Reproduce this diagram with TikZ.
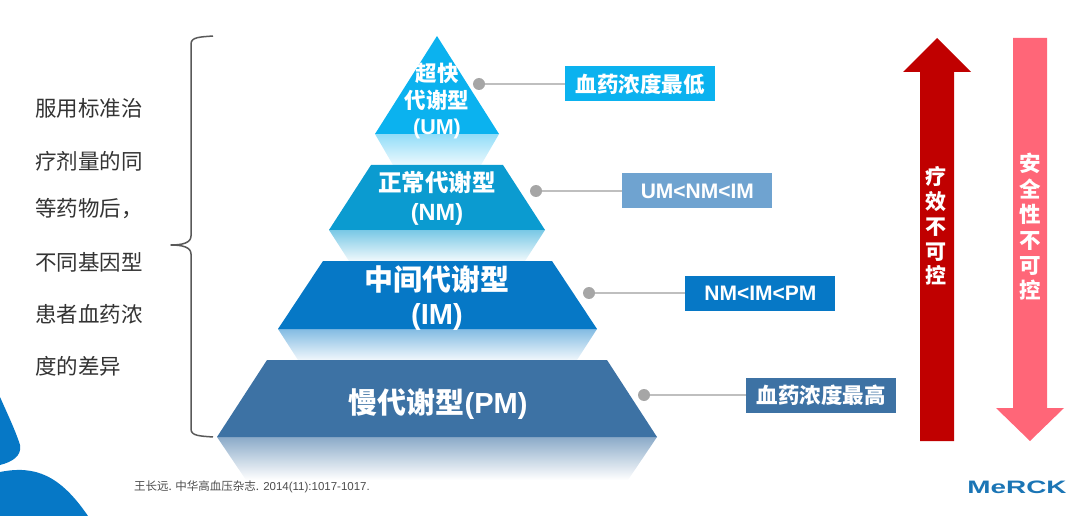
\documentclass[tikz,border=0pt]{standalone}
\usepackage{fontspec}
\setmainfont{Liberation Sans}
\newfontfamily\cjk{Noto Sans CJK SC}
\usetikzlibrary{positioning}
\definecolor{umblue}{HTML}{0BB2EF}
\definecolor{nmblue}{HTML}{0B9BD0}
\definecolor{imblue}{HTML}{0678C6}
\definecolor{pmblue}{HTML}{3D72A4}
\definecolor{nmtag}{HTML}{6FA3D0}
\definecolor{effred}{HTML}{C00000}
\definecolor{safepink}{HTML}{FF6678}
\definecolor{logoblue}{HTML}{1B75B5}
\tikzset{
  tier/.style={text=white,align=center,inner sep=0pt},
  side/.style={anchor=west,inner sep=0pt,text=black!80,font=\cjk\fontsize{21.5}{25}\selectfont},
  dot/.style={circle,fill=black!35,minimum size=12pt,inner sep=0pt},
  tag/.style={minimum width=150pt,minimum height=35pt,inner sep=0pt,text=white},
  lead/.style={black!25,line width=1.5pt},
  vert/.style={text=white,align=center,inner sep=0pt}
}
\begin{document}
\begin{tikzpicture}[x=1pt,y=-1pt]
\useasboundingbox (0,0) rectangle (1080,516);

\fill[imblue] (0,397) .. controls (8,415) and (16,432) .. (20,445) .. controls (22,456) and (12,462) .. (0,465) -- cycle;
\fill[imblue] (0,472) .. controls (35,465) and (60,475) .. (88,516) -- (0,516) -- cycle;

\shade[top color=umblue!45,bottom color=umblue!8] (375,134) -- (499,134) -- (481,165) -- (393,165) -- cycle;
\shade[top color=nmblue!55,bottom color=nmblue!6] (329,230) -- (545,230) -- (525,261) -- (349,261) -- cycle;
\shade[top color=imblue!50,bottom color=imblue!6] (278,329) -- (597,329) -- (577,360) -- (298,360) -- cycle;
\shade[top color=pmblue!60,bottom color=white] (217,437) -- (657,437) -- (628,480) -- (246,480) -- cycle;

\fill[umblue] (437,36) -- (499,134) -- (375,134) -- cycle;
\fill[nmblue] (371,165) -- (503,165) -- (545,230) -- (329,230) -- cycle;
\fill[imblue] (323,261) -- (552,261) -- (597,329) -- (278,329) -- cycle;
\fill[pmblue] (267,360) -- (607,360) -- (657,437) -- (217,437) -- cycle;

\node[tier,font=\cjk\bfseries\fontsize{21.5}{26.5}\selectfont] (um) at (437,101.5) {超快\\代谢型\\{\rmfamily (UM)}};
\node[tier,font=\cjk\bfseries\fontsize{23.5}{29}\selectfont] (nm) at (437,198.5) {正常代谢型\\{\rmfamily (NM)}};
\node[tier,font=\cjk\bfseries\fontsize{29}{34}\selectfont] (im) at (437,298.5) {中间代谢型\\{\rmfamily (IM)}};
\node[tier,font=\cjk\bfseries\fontsize{29}{34}\selectfont] (pm) at (438,404) {慢代谢型{\rmfamily (PM)}};

\node[dot] (dotum) at (479,84) {};
\node[dot] (dotnm) at (536,191) {};
\node[dot] (dotim) at (589,293) {};
\node[dot] (dotpm) at (644,395) {};

\node[tag,fill=umblue,right=80pt of dotum,font=\cjk\bfseries\fontsize{21.5}{26}\selectfont] (tagum) {血药浓度最低};
\node[tag,fill=nmtag,right=80pt of dotnm,font=\bfseries\fontsize{21}{24}\selectfont] (tagnm) {UM<NM<IM};
\node[tag,fill=imblue,right=90pt of dotim,font=\bfseries\fontsize{21}{24}\selectfont] (tagim) {NM<IM<PM};
\node[tag,fill=pmblue,right=96pt of dotpm,font=\cjk\bfseries\fontsize{21.5}{26}\selectfont] (tagpm) {血药浓度最高};

\draw[lead] (dotum) -- (tagum);
\draw[lead] (dotnm) -- (tagnm);
\draw[lead] (dotim) -- (tagim);
\draw[lead] (dotpm) -- (tagpm);

\node[side] (line1) at (35,108) {服用标准治};
\node[side] (line2) at (35,161) {疗剂量的同};
\node[side] (line3) at (35,209) {等药物后，};
\node[side] (line4) at (35,262) {不同基因型};
\node[side] (line5) at (35,314) {患者血药浓};
\node[side] (line6) at (35,366) {度的差异};

\draw[black!65,line width=1.5pt,line join=round] (213,36) .. controls (200,37) and (191,37) .. (191,44) -- (191,236) .. controls (191,243) and (182,245) .. (171,245) .. controls (182,245) and (191,247) .. (191,254) -- (191,429) .. controls (191,436) and (200,436) .. (213,437);

\fill[effred] (937,38) -- (971,72) -- (954,72) -- (954,441) -- (920,441) -- (920,72) -- (903,72) -- cycle;
\fill[safepink] (1013,38) -- (1047,38) -- (1047,408) -- (1064,408) -- (1030,441) -- (996,408) -- (1013,408) -- cycle;

\node[vert,font=\cjk\bfseries\fontsize{21}{24.8}\selectfont] (eff) at (936,226) {疗\\效\\不\\可\\控};
\node[vert,font=\cjk\bfseries\fontsize{21.5}{25.4}\selectfont] (safe) at (1030,227) {安\\全\\性\\不\\可\\控};

\node[anchor=west,inner sep=0pt,text=black!70,font=\fontsize{11.5}{13}\selectfont] (cite) at (134,487) {{\cjk 王长远. 中华高血压杂志.} 2014(11):1017-1017.};
\node[inner sep=0pt,text=logoblue,font=\bfseries\fontsize{18}{20}\selectfont,xscale=1.55] (logo) at (1017,487) {MeRCK};
\end{tikzpicture}
\end{document}
